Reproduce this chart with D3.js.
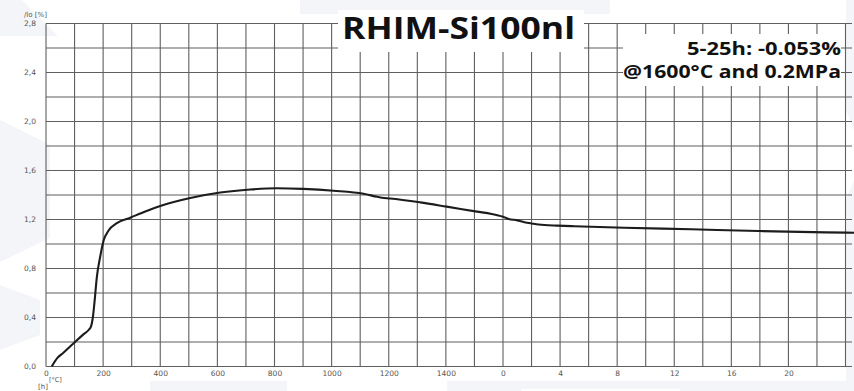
<!DOCTYPE html>
<html>
<head>
<meta charset="utf-8">
<script src="https://cdn.jsdelivr.net/npm/d3@7"></script>
<style>
    body { margin: 0; background: #fff; }
    svg { display: block; }
</style>
</head>
<body>
<div id="chart"></div>
<script>
// heating phase: temperature [°C] -> dilatation [%]
const heatTemp = [20, 40, 60, 97, 130, 150, 158, 164, 170, 178, 190, 202, 219, 248, 295, 350, 400, 505, 610, 715, 808, 900, 1007, 1112, 1160, 1176, 1205, 1310, 1403, 1509, 1560, 1600];
const heatDl   = [0, 0.07, 0.11, 0.19, 0.26, 0.30, 0.33, 0.40, 0.53, 0.73, 0.90, 1.03, 1.11, 1.17, 1.215, 1.268, 1.31, 1.375, 1.42, 1.445, 1.455, 1.45, 1.435, 1.41, 1.385, 1.378, 1.372, 1.34, 1.305, 1.264, 1.245, 1.222];

// holding phase at 1600°C: time [h] -> dilatation [%]
const holdHours = [0.4, 1.0, 1.5, 2.0, 2.9, 3.8, 5, 8.5, 13.2, 17.9, 22.6, 25];
const holdDl    = [1.205, 1.193, 1.178, 1.168, 1.155, 1.15, 1.145, 1.133, 1.12, 1.106, 1.095, 1.092];

const tempTicks = [0, 200, 400, 600, 800, 1000, 1200, 1400];
const hourTicks = [0, 4, 8, 12, 16, 20];
const yTicks = [0, 0.4, 0.8, 1.2, 1.6, 2.0, 2.4, 2.8];
const yTickLabels = ["0,0", "0,4", "0,8", "1,2", "1,6", "2,0", "2,4", "2,8"];

const chartTitle = "RHIM-Si100nl";
const noteLines = ["5-25h: -0.053%", "@1600°C and 0.2MPa"];

const width = 854, height = 391;

const svg = d3.select("#chart").append("svg")
    .attr("width", width)
    .attr("height", height);

// faint watermark shapes in the background
const wm = svg.append("g").style("fill", "#f4f5f9");
wm.append("polygon").attr("points", "0,0 22,0 58,36 0,36");
wm.append("polygon").attr("points", "0,120 50,145 50,238 0,262");
wm.append("polygon").attr("points", "0,285 40,300 40,335 0,350");
wm.append("rect").attr("x", 300).attr("y", 0).attr("width", 310).attr("height", 14);
wm.append("polygon").attr("points", "846,0 854,0 854,130 846,110");
wm.append("polygon").attr("points", "846,200 854,180 854,391 846,391");
wm.append("rect").attr("x", 150).attr("y", 381).attr("width", 696).attr("height", 10);
svg.append("rect").attr("x", 287).attr("y", 381).attr("width", 160).attr("height", 10).style("fill", "#fff");
svg.append("rect").attr("x", 522).attr("y", 389).attr("width", 158).attr("height", 2).style("fill", "#fff");

// scales: temperature part and time part share the x axis
const xT = d3.scaleLinear().domain([0, 1600]).range([46, 503]);
const xH = d3.scaleLinear().domain([0, 24]).range([503, 845.5]);
const y = d3.scaleLinear().domain([0, 2.8]).range([366.5, 23.5]);

// grid
const grid = svg.append("g")
    .style("stroke", "#5f5f5f")
    .style("stroke-width", 1.1);

const vLines = d3.range(0, 1601, 100).map(d => xT(d))
    .concat(d3.range(2, 25, 2).map(d => xH(d)));

grid.selectAll(".v").data(vLines).enter()
    .append("line")
    .attr("class", "v")
    .attr("x1", d => d).attr("x2", d => d)
    .attr("y1", y(0)).attr("y2", y(2.8));

grid.selectAll(".h").data(d3.range(0, 15).map(i => i * 0.2)).enter()
    .append("line")
    .attr("class", "h")
    .attr("x1", xT(0)).attr("x2", 852)
    .attr("y1", d => y(d)).attr("y2", d => y(d));

// white boxes behind the title and the note
svg.append("rect")
    .attr("x", 338).attr("y", 10).attr("width", 246).attr("height", 42)
    .style("fill", "#fff");
svg.append("rect")
    .attr("x", 623).attr("y", 34).attr("width", 218).attr("height", 52)
    .style("fill", "#fff");

// axes
function styleAxis(g) {
    g.select(".domain").remove();
    g.selectAll("text")
        .style("font-family", "DejaVu Sans, sans-serif")
        .style("font-size", "7.5px")
        .style("fill", "#555");
}

svg.append("g")
    .attr("transform", "translate(0," + y(0) + ")")
    .call(d3.axisBottom(xT).tickValues(tempTicks).tickSize(0).tickPadding(4)
        .tickFormat(d3.format("d")))
    .call(styleAxis);

svg.append("g")
    .attr("transform", "translate(0," + y(0) + ")")
    .call(d3.axisBottom(xH).tickValues(hourTicks).tickSize(0).tickPadding(4)
        .tickFormat(d3.format("d")))
    .call(styleAxis);

svg.append("g")
    .attr("transform", "translate(36,0)")
    .call(d3.axisLeft(y).tickValues(yTicks).tickSize(0).tickPadding(0)
        .tickFormat((d, i) => yTickLabels[i]))
    .call(styleAxis);

const small = svg.append("g")
    .style("font-family", "DejaVu Sans, sans-serif")
    .style("fill", "#555");
small.append("text").attr("x", 24).attr("y", 17).style("font-size", "7px").text("/lo [%]");
small.append("text").attr("x", 38).attr("y", 389).style("font-size", "7px").text("[h]");
small.append("text").attr("x", 49).attr("y", 382).style("font-size", "6.5px").text("[°C]");

// dilatation curve
const points = heatTemp.map((t, i) => [xT(t), y(heatDl[i])])
    .concat(holdHours.map((h, i) => [xH(h), y(holdDl[i])]));

svg.append("path")
    .datum(points)
    .attr("d", d3.line().curve(d3.curveMonotoneX))
    .style("fill", "none")
    .style("stroke", "#1c1c1c")
    .style("stroke-width", 2.1)
    .style("stroke-linejoin", "round");

// title and note
svg.append("text")
    .attr("x", 342).attr("y", 38.5)
    .attr("textLength", 233)
    .attr("lengthAdjust", "spacingAndGlyphs")
    .style("font-family", "Open Sans, sans-serif")
    .style("font-weight", "bold")
    .style("font-size", "30px")
    .style("fill", "#111")
    .text(chartTitle);

const noteX = [687, 623];
const noteY = [55, 78.3];
svg.selectAll(".note").data(noteLines).enter()
    .append("text")
    .attr("class", "note")
    .attr("x", (d, i) => noteX[i])
    .attr("y", (d, i) => noteY[i])
    .attr("textLength", (d, i) => 841 - noteX[i])
    .attr("lengthAdjust", "spacingAndGlyphs")
    .style("font-family", "Open Sans, sans-serif")
    .style("font-weight", "bold")
    .style("font-size", "18.5px")
    .style("fill", "#111")
    .text(d => d);
</script>
</body>
</html>
